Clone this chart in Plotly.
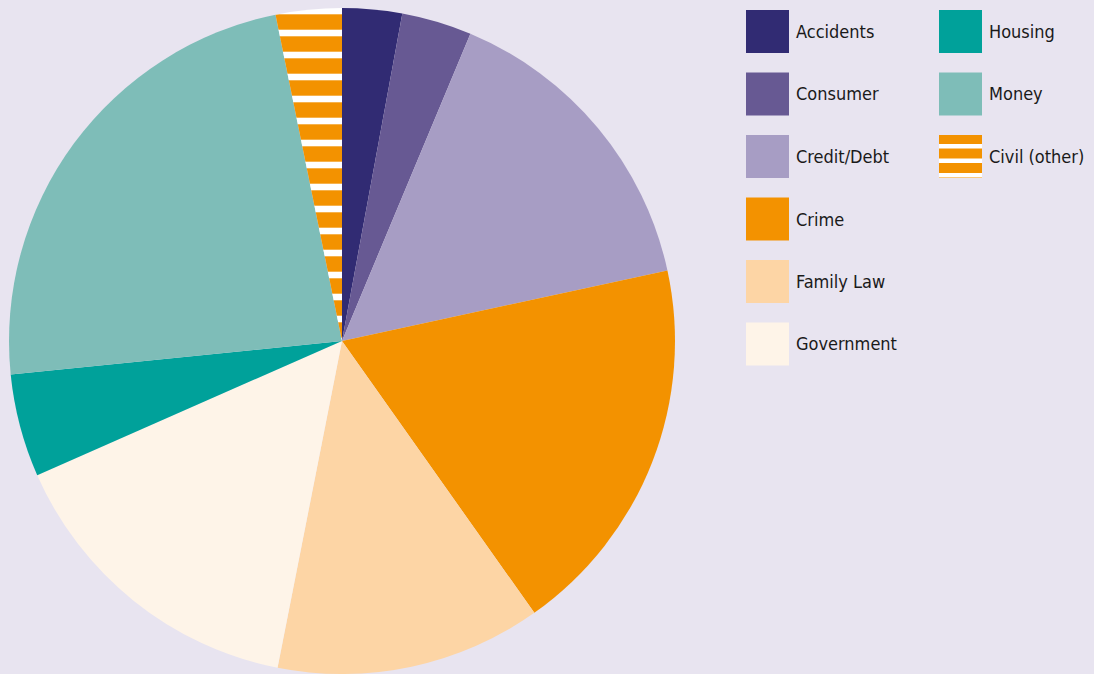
import plotly.graph_objects as go

labels = ["Accidents", "Consumer", "Credit/Debt", "Crime", "Family Law",
          "Government", "Housing", "Money", "Civil (other)"]
values = [2.9, 3.4, 15.3, 18.6, 12.9, 15.3, 5.0, 23.4, 3.2]
colors = ["#312B73", "#675993", "#A79DC4", "#F39200", "#FDD5A5",
          "#FEF4E8", "#00A19A", "#7EBDB8", "#F39200"]
patterns = ["", "", "", "", "", "", "", "", "-"]

W, H = 1094, 674
MT = 8
BG = "#E8E4F0"
FONT = "DejaVu Sans Condensed, DejaVu Sans, sans-serif"

def px(x):
    return x / W

def py(y):
    return (H - y) / (H - MT)

fig = go.Figure()
fig.add_trace(go.Pie(
    labels=labels, values=values, sort=False, direction="clockwise",
    rotation=0, textinfo="none", hoverinfo="label+percent",
    marker=dict(colors=colors, line=dict(width=0),
                pattern=dict(shape=patterns, fgcolor="#FFFFFF", fgopacity=1,
                             size=22, solidity=0.3, fillmode="overlay")),
    domain=dict(x=[px(9), px(675)], y=[0, 1]),
    showlegend=False,
))

shapes = []
annotations = []
col_x = [746, 939]
row_y0 = 10
row_step = 62.5
sw = 43
rows_per_col = 6
for i, (lab, col, pat) in enumerate(zip(labels, colors, patterns)):
    c = i // rows_per_col
    r = i % rows_per_col
    x0 = col_x[c]
    y0 = row_y0 + r * row_step
    shapes.append(dict(type="rect", xref="paper", yref="paper",
                       x0=px(x0), x1=px(x0 + sw), y0=py(y0), y1=py(y0 + sw),
                       fillcolor=col, line=dict(width=0), layer="above"))
    if pat == "-":
        yy = y0 + 9
        while yy < y0 + sw:
            shapes.append(dict(type="rect", xref="paper", yref="paper",
                               x0=px(x0), x1=px(x0 + sw), y0=py(yy),
                               y1=py(min(yy + 4.5, y0 + sw)),
                               fillcolor="#FFFFFF", line=dict(width=0),
                               layer="above"))
            yy += 14.5
    annotations.append(dict(text=lab, xref="paper", yref="paper",
                            x=px(x0 + sw + 5), y=py(y0 + sw / 2),
                            xanchor="left", yanchor="middle", showarrow=False,
                            font=dict(family=FONT, size=18, color="#1A1A1A")))

fig.update_layout(
    width=W, height=H,
    margin=dict(l=0, r=0, t=MT, b=0),
    paper_bgcolor=BG, plot_bgcolor=BG,
    shapes=shapes, annotations=annotations,
    font=dict(family=FONT),
)
fig.write_html("out.html",
               config={"displayModeBar": False},
               post_script="document.body.style.margin='0';"
                           "document.body.style.background='" + BG + "';")
